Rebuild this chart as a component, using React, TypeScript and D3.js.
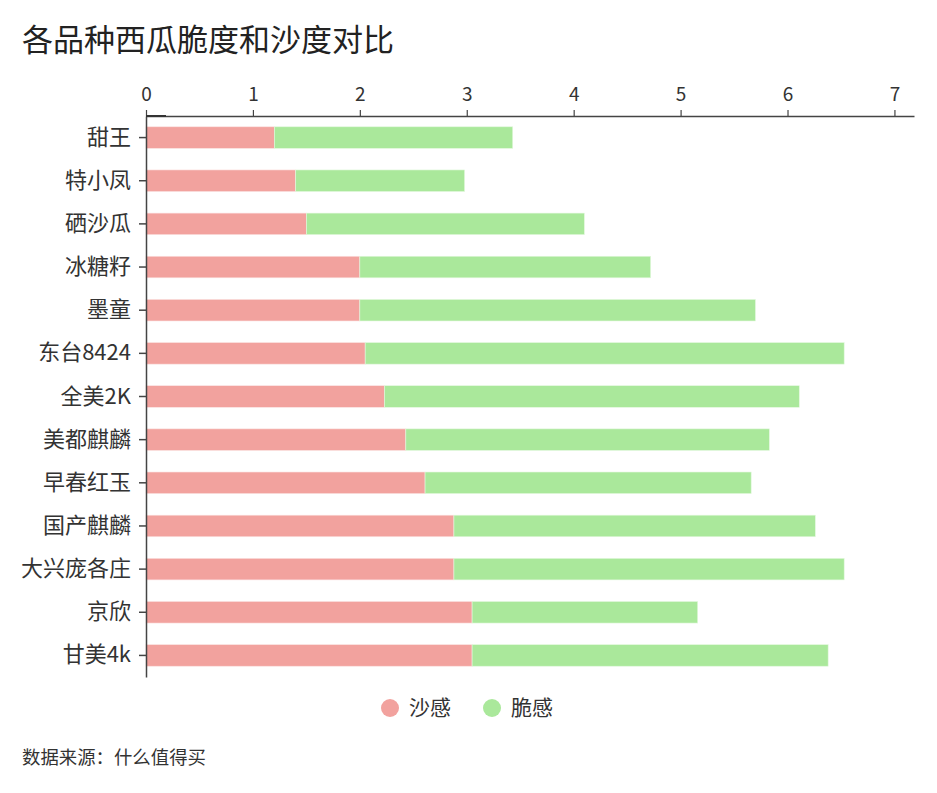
import React, { useEffect, useRef } from "react";
import * as d3 from "d3";

const categories = ["甜王", "特小凤", "硒沙瓜", "冰糖籽", "墨童", "东台8424", "全美2K", "美都麒麟", "早春红玉", "国产麒麟", "大兴庞各庄", "京欣", "甘美4k"];
const sandValues = [1.2, 1.4, 1.5, 2.0, 2.0, 2.05, 2.23, 2.43, 2.61, 2.88, 2.88, 3.05, 3.05];
const crispValues = [2.23, 1.58, 2.6, 2.72, 3.7, 4.48, 3.88, 3.4, 3.05, 3.38, 3.65, 2.11, 3.33];
const seriesNames = ["沙感", "脆感"];
const seriesColors = ["#f2a29e", "#aae89b"];
const xTicks = [0, 1, 2, 3, 4, 5, 6, 7];

const W = 937, H = 793;
const FONT = "'Noto Sans CJK SC', 'Noto Sans', sans-serif";

export default function App() {
  const ref = useRef<SVGSVGElement>(null);
  useEffect(() => {
    const svg = d3.select(ref.current);
    svg.selectAll("*").remove();
    const left = 146, right = 914, top = 116, bottom = 677;
    const totals = sandValues.map((s, i) => s + crispValues[i]);
    const x = d3.scaleLinear().domain([0, (d3.max(totals) as number) * 1.1]).range([left, right]);
    const y = d3.scaleBand<string>().domain(categories).range([top, bottom]).paddingInner(0.5).paddingOuter(0.25);

    svg.append("text").attr("x", 22).attr("y", 51).text("各品种西瓜脆度和沙度对比")
      .attr("font-family", FONT).attr("font-size", 31).attr("fill", "#222");

    // bars
    const g = svg.append("g");
    categories.forEach((c, i) => {
      g.append("rect").attr("x", x(0)).attr("y", y(c)!).attr("width", x(sandValues[i]) - x(0)).attr("height", y.bandwidth())
        .attr("fill", seriesColors[0]).attr("stroke", "#fbe3e2").attr("stroke-width", 0.6);
      g.append("rect").attr("x", x(sandValues[i])).attr("y", y(c)!).attr("width", x(totals[i]) - x(sandValues[i])).attr("height", y.bandwidth())
        .attr("fill", seriesColors[1]).attr("stroke", "#e4f8df").attr("stroke-width", 0.6);
    });

    // x axis top
    const xa = svg.append("g").attr("transform", `translate(0,${top})`)
      .call(d3.axisTop(x).tickValues(xTicks).tickSize(6).tickSizeOuter(0).tickFormat(d3.format("d")));
    xa.select(".domain").attr("stroke", "#444").attr("stroke-width", 1.5);
    xa.selectAll(".tick line").attr("stroke", "#444").attr("stroke-width", 1.2);
    xa.selectAll(".tick text").attr("font-family", FONT).attr("font-size", 19).attr("fill", "#333").attr("dy", "-0.3em");

    // y axis
    const ya = svg.append("g").attr("transform", `translate(${left},0)`)
      .call(d3.axisLeft(y).tickSize(7).tickSizeOuter(0).tickPadding(8));
    ya.select(".domain").attr("stroke", "#444").attr("stroke-width", 1.5);
    ya.selectAll(".tick line").attr("stroke", "#444").attr("stroke-width", 1.5);
    ya.selectAll(".tick text").attr("font-family", FONT).attr("font-size", 22).attr("fill", "#333");

    svg.append("line").attr("x1", left).attr("x2", left + 20).attr("y1", top).attr("y2", top)
      .attr("stroke", "#333").attr("stroke-width", 2);

    // legend
    const lg = svg.append("g");
    const lx = [390, 492];
    seriesNames.forEach((n, i) => {
      lg.append("circle").attr("cx", lx[i]).attr("cy", 708).attr("r", 9).attr("fill", seriesColors[i]);
      lg.append("text").attr("x", lx[i] + 19).attr("y", 708).attr("dy", "0.35em").text(n)
        .attr("font-family", FONT).attr("font-size", 21).attr("fill", "#333");
    });

    svg.append("text").attr("x", 22).attr("y", 764).text("数据来源：什么值得买")
      .attr("font-family", FONT).attr("font-size", 18.4).attr("fill", "#333");
  }, []);
  return <svg ref={ref} width={W} height={H} style={{ position: "absolute", left: 0, top: 0, background: "#fff" }} />;
}
